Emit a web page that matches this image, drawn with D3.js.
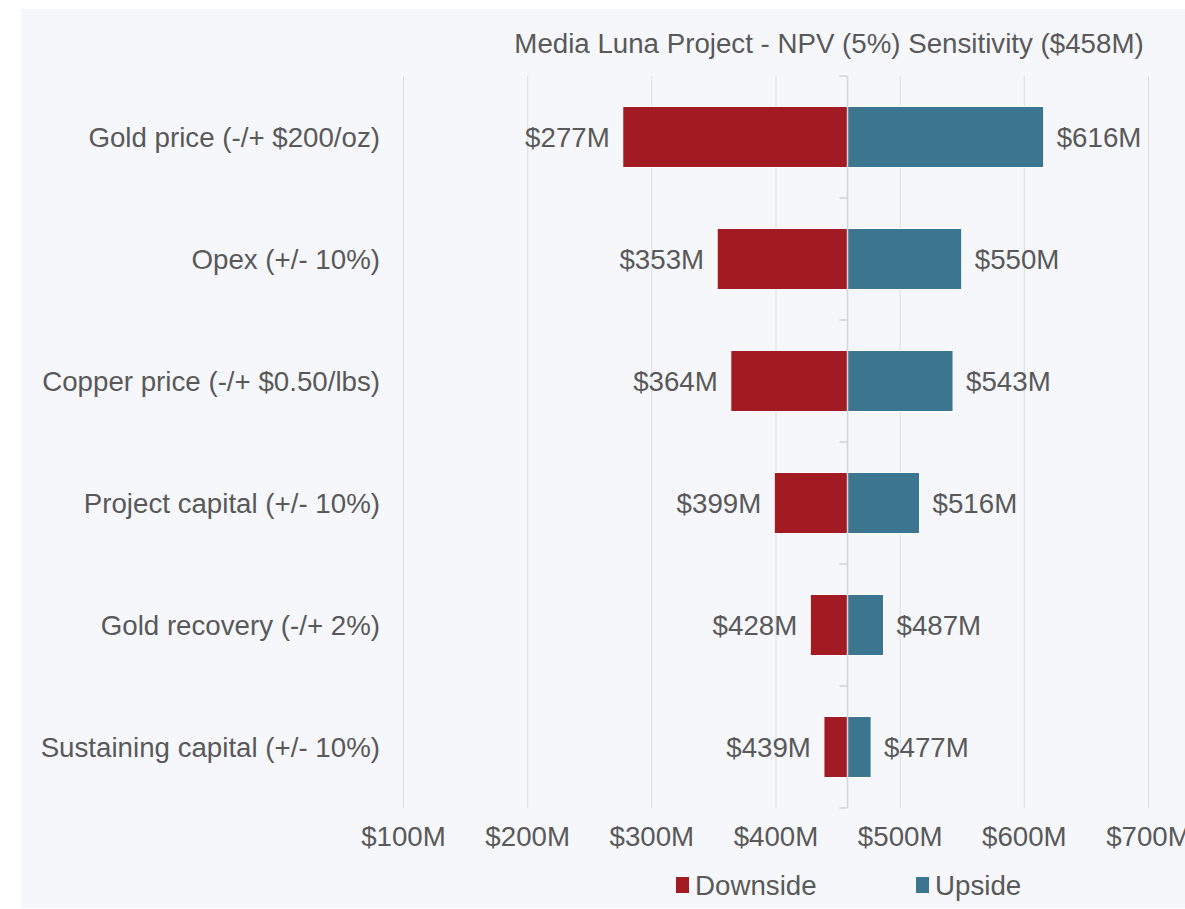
<!DOCTYPE html>
<html>
<head>
<meta charset="utf-8">
<script src="https://cdn.jsdelivr.net/npm/d3@7"></script>
<style>
  html, body { margin: 0; padding: 0; background: #ffffff; }
  svg text { font-family: "Liberation Sans", Arial, sans-serif; fill: #595959; }
</style>
</head>
<body>
<svg id="chart" width="1185" height="909"></svg>
<script>
// NPV sensitivity, $M
const categories = [
    'Gold price (-/+ $200/oz)',
    'Opex (+/- 10%)',
    'Copper price (-/+ $0.50/lbs)',
    'Project capital (+/- 10%)',
    'Gold recovery (-/+ 2%)',
    'Sustaining capital (+/- 10%)'
];
const downside = [277, 353, 364, 399, 428, 439];
const upside = [616, 550, 543, 516, 487, 477];
const baseNpv = 458;
const xTicks = [100, 200, 300, 400, 500, 600, 700];
const seriesNames = ['Downside', 'Upside'];

const RED = '#a21a22';
const BLUE = '#3b758f';
const FONT = 27.7;

const PLOT = { left: 403, right: 1148, top: 76, bottom: 808 };

const svg = d3.select('#chart');

// panel background
svg.append('rect')
    .attr('x', 21).attr('y', 9)
    .attr('width', 1164).attr('height', 899)
    .attr('fill', '#f6f7fb');

const x = d3.scaleLinear()
    .domain([100, 700])
    .range([PLOT.left, PLOT.right]);

const y = d3.scaleBand()
    .domain(categories)
    .range([PLOT.top, PLOT.bottom])
    .paddingInner(0.5)
    .paddingOuter(0.25);

const band = d3.scaleBand()
    .domain(categories)
    .range([PLOT.top, PLOT.bottom]);

// ─── gridlines + x tick labels ───────────────────────────────
const xAxis = svg.append('g')
    .attr('transform', `translate(0,${PLOT.bottom})`)
    .call(d3.axisBottom(x)
        .tickValues(xTicks)
        .tickSize(-(PLOT.bottom - PLOT.top))
        .tickPadding(18)
        .tickFormat(d => `$${d}M`));

xAxis.select('.domain').remove();
xAxis.selectAll('.tick line')
    .attr('stroke', '#dcdde0')
    .attr('stroke-width', 1);
xAxis.selectAll('.tick text')
    .attr('font-size', FONT)
    .attr('dy', '0.71em')
    .style('fill', '#595959');

// ─── bars ────────────────────────────────────────────────────
const rows = categories.map((c, i) => ({ cat: c, lo: downside[i], hi: upside[i] }));

const bars = svg.append('g');

bars.selectAll('rect.down')
    .data(rows)
    .enter()
    .append('rect')
    .attr('class', 'down')
    .attr('x', d => x(d.lo))
    .attr('y', d => y(d.cat))
    .attr('width', d => x(baseNpv) - x(d.lo))
    .attr('height', y.bandwidth())
    .attr('fill', RED)
    .attr('stroke', '#ffffff')
    .attr('stroke-width', 1);

bars.selectAll('rect.up')
    .data(rows)
    .enter()
    .append('rect')
    .attr('class', 'up')
    .attr('x', x(baseNpv))
    .attr('y', d => y(d.cat))
    .attr('width', d => x(d.hi) - x(baseNpv))
    .attr('height', y.bandwidth())
    .attr('fill', BLUE)
    .attr('stroke', '#ffffff')
    .attr('stroke-width', 1);

// ─── vertical category axis at base NPV ──────────────────────
const axisX = x(baseNpv);
const vAxis = svg.append('g');
vAxis.append('line')
    .attr('x1', axisX).attr('x2', axisX)
    .attr('y1', PLOT.top).attr('y2', PLOT.bottom)
    .attr('stroke', '#d4d5d9')
    .attr('stroke-width', 1.5);

const bounds = categories.map(c => band(c)).concat([band.range()[1]]);
vAxis.selectAll('line.tk')
    .data(bounds)
    .enter()
    .append('line')
    .attr('class', 'tk')
    .attr('x1', axisX - 8).attr('x2', axisX)
    .attr('y1', d => d).attr('y2', d => d)
    .attr('stroke', '#d4d5d9')
    .attr('stroke-width', 1.5);

// ─── category labels ─────────────────────────────────────────
svg.append('g').selectAll('text')
    .data(categories)
    .enter()
    .append('text')
    .attr('x', 380)
    .attr('y', d => band(d) + band.bandwidth() / 2)
    .attr('dy', '0.36em')
    .attr('text-anchor', 'end')
    .attr('font-size', FONT)
    .text(d => d);

// ─── data labels ─────────────────────────────────────────────
const labels = svg.append('g');
labels.selectAll('text.lo')
    .data(rows)
    .enter()
    .append('text')
    .attr('x', d => x(d.lo) - 13)
    .attr('y', d => y(d.cat) + y.bandwidth() / 2)
    .attr('dy', '0.36em')
    .attr('text-anchor', 'end')
    .attr('font-size', FONT)
    .text(d => `$${d.lo}M`);

labels.selectAll('text.hi')
    .data(rows)
    .enter()
    .append('text')
    .attr('x', d => x(d.hi) + 13)
    .attr('y', d => y(d.cat) + y.bandwidth() / 2)
    .attr('dy', '0.36em')
    .attr('text-anchor', 'start')
    .attr('font-size', FONT)
    .text(d => `$${d.hi}M`);

// ─── title ───────────────────────────────────────────────────
svg.append('text')
    .attr('x', 829)
    .attr('y', 53)
    .attr('text-anchor', 'middle')
    .attr('font-size', FONT)
    .text(`Media Luna Project - NPV (5%) Sensitivity ($${baseNpv}M)`);

// ─── legend ──────────────────────────────────────────────────
const legendX = [676, 916];
const legend = svg.append('g');
seriesNames.forEach((name, i) => {
    legend.append('rect')
        .attr('x', legendX[i]).attr('y', 877)
        .attr('width', 13).attr('height', 16)
        .attr('fill', i === 0 ? RED : BLUE);
    legend.append('text')
        .attr('x', legendX[i] + 19)
        .attr('y', 885)
        .attr('dy', '0.36em')
        .attr('font-size', FONT)
        .text(name);
});
</script>
</body>
</html>
